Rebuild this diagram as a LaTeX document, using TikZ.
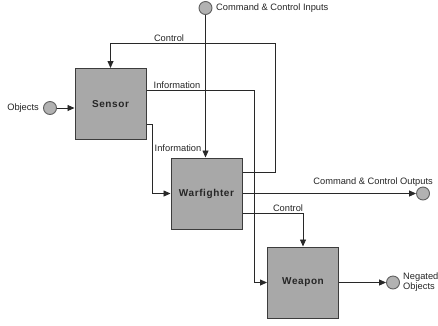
\documentclass[tikz,border=0pt]{standalone}
\usepackage{fontspec}
\setmainfont{Liberation Sans}
\usetikzlibrary{arrows.meta,calc}
\definecolor{boxfill}{RGB}{168,168,168}
\definecolor{boxline}{RGB}{60,60,60}
\definecolor{portfill}{RGB}{178,178,178}
\definecolor{portline}{RGB}{95,95,95}
\definecolor{wire}{RGB}{40,40,40}
\newfontfamily\spacedbold[LetterSpace=6,BoldFont={Liberation Sans Bold}]{Liberation Sans}
\begin{document}
\begin{tikzpicture}[x=1pt,y=-1pt,
  block/.style={draw=boxline,line width=1pt,fill=boxfill,minimum width=71pt,minimum height=71pt,inner sep=0pt,text=black!85,font=\fontsize{10}{12}\spacedbold\bfseries},
  port/.style={circle,draw=portline,line width=0.9pt,fill=portfill,minimum size=13pt,inner sep=0pt},
  wirepath/.style={draw=wire,line width=0.8pt},
  flow/.style={wirepath,-{Triangle[length=7pt,width=6pt]}},
  lbl/.style={font=\fontsize{9.3}{10.5}\selectfont,text=black!85,inner sep=0pt}]
\useasboundingbox (0,0) rectangle (438,325);
\fill[white] (0,0) rectangle (438,325);

% blocks
\node[block] (sensor) at (110.5,104) {Sensor};
\node[block] (warf) at (206.5,193.5) {Warfighter};
\node[block] (weapon) at (303,282.5) {Weapon};

% external ports
\node[port] (cci) at (205.5,8) {};
\node[port] (obj) at (50,108) {};
\node[port] (cco) at (423,193.5) {};
\node[port] (neg) at (393,282.5) {};

\node[lbl,anchor=west] (tcci) at (216,8) {Command \& Control Inputs};
\node[lbl,anchor=east] (tobj) at (39,108) {Objects};
\node[lbl,anchor=south east] (tcco) at (433,187) {Command \& Control Outputs};
\node[lbl,anchor=west,align=left] (tneg) at (403,282) {Negated\\Objects};

% bend points
\coordinate (ctrlA) at (275,43);
\coordinate (ctrlB) at (110.5,43);
\coordinate (infoA) at (254,90);
\coordinate (infoB) at (152,124);
\coordinate (ctrlW) at (303,213);

% Warfighter control back to Sensor
\draw[flow] (warf.east |- 0,172) -- (ctrlA |- 0,172) -- (ctrlA) -- (ctrlB) -- (sensor.north);
\node[lbl] (tctrl1) at (169,38) {Control};

% Sensor information to Weapon
\draw[flow] (sensor.east |- infoA) -- (infoA) -- (infoA |- weapon.west) -- (weapon.west);
\node[lbl] (tinfo1) at (177,85) {Information};

% Sensor information to Warfighter
\draw[flow] (sensor.east |- infoB) -- (infoB) -- (infoB |- warf.west) -- (warf.west);
\node[lbl] (tinfo2) at (178,148) {Information};

% Command & control inputs
\draw[flow] (cci.south) -- (warf.north -| cci);

% Objects into Sensor
\draw[flow] (obj.east) -- (sensor.west |- obj);

% Warfighter outputs
\draw[flow] (warf.east) -- (cco.west);

% Warfighter control to Weapon
\draw[flow] (warf.east |- ctrlW) -- (ctrlW) -- (weapon.north);
\node[lbl] (tctrl2) at (288,208) {Control};

% Weapon to negated objects
\draw[flow] (weapon.east) -- (neg.west);
\end{tikzpicture}
\end{document}
